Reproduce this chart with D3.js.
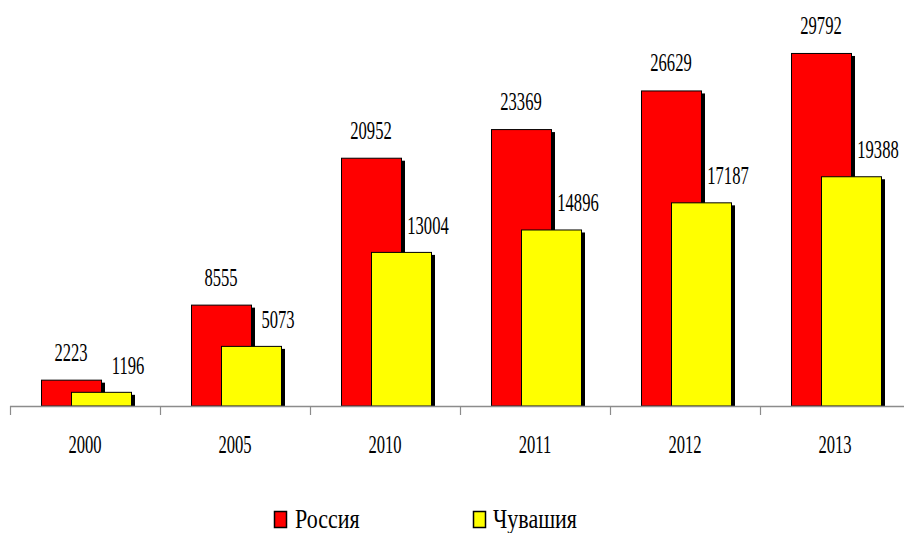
<!DOCTYPE html>
<html><head><meta charset="utf-8">
<script src="https://cdn.jsdelivr.net/npm/d3@7"></script>
<style>body{margin:0;background:#fff}svg{display:block}</style>
</head><body><svg id="c" width="904" height="533"></svg>
<script>
const categories = ["2000","2005","2010","2011","2012","2013"];
const russia = [2223, 8555, 20952, 23369, 26629, 29792];
const chuvashia = [1196, 5073, 13004, 14896, 17187, 19388];
const seriesNames = ["Россия","Чувашия"];
const colors = ["#ff0000","#ffff00"];
const FONT = "'Liberation Serif', 'Times New Roman', 'DejaVu Serif', serif";

const svg = d3.select("#c");
const x = d3.scaleBand().domain(categories).range([10, 910]).padding(0);
const y = d3.scaleLinear().domain([0, 30000]).range([406, 50.5]);
const bw = 60;

function label(g, txt, px, py, fs, sy){
  g.append("text").attr("transform", `translate(${px},${py}) scale(1,${sy})`)
   .attr("text-anchor","middle").attr("font-family", FONT).attr("font-size", fs).attr("fill","#000").text(txt);
}

const series = [russia, chuvashia];
series.forEach((vals, si) => {
  const off = si === 0 ? 31 : 61;
  const g = svg.append("g");
  categories.forEach((c, i) => {
    const x0 = x(c) + off, yt = y(vals[i]);
    g.append("rect").attr("x", x0+4).attr("y", yt+3).attr("width", bw).attr("height", y(0)-yt-3).attr("fill","#000");
    g.append("rect").attr("x", x0+0.5).attr("y", yt+0.5).attr("width", bw).attr("height", y(0)-yt-0.5)
      .attr("fill", colors[si]).attr("stroke","#000").attr("stroke-width",1);
  });
});

// axis
const ax = svg.append("g");
ax.append("line").attr("x1",10).attr("x2",904).attr("y1",406.5).attr("y2",406.5).attr("stroke","#8c8c8c").attr("stroke-width",1.5);
categories.forEach(c => {
  ax.append("line").attr("x1",x(c)+0.5).attr("x2",x(c)+0.5).attr("y1",406).attr("y2",415).attr("stroke","#8c8c8c").attr("stroke-width",1.2);
  label(ax, c, x(c)+x.bandwidth()/2, 453, 16.6, 1.55);
});

// data labels
const lg = svg.append("g");
categories.forEach((c, i) => {
  label(lg, russia[i], x(c)+31+bw/2, y(russia[i])-19, 16.6, 1.55);
  label(lg, chuvashia[i], x(c)+61+bw/2+27, y(chuvashia[i])-18, 16.6, 1.55);
});

// legend
const leg = svg.append("g");
const legX = [274, 473], legT = [295, 493];
seriesNames.forEach((n, i) => {
  leg.append("rect").attr("x", legX[i]+0.5).attr("y", 511.5).attr("width", 12).attr("height", 16)
    .attr("fill", colors[i]).attr("stroke","#000").attr("stroke-width",1.5);
  leg.append("text").attr("transform", `translate(${legT[i]},528) scale(1,1.25)`)
    .attr("font-family", FONT).attr("font-size", 22).attr("fill","#000").text(n);
});
</script></body></html>
